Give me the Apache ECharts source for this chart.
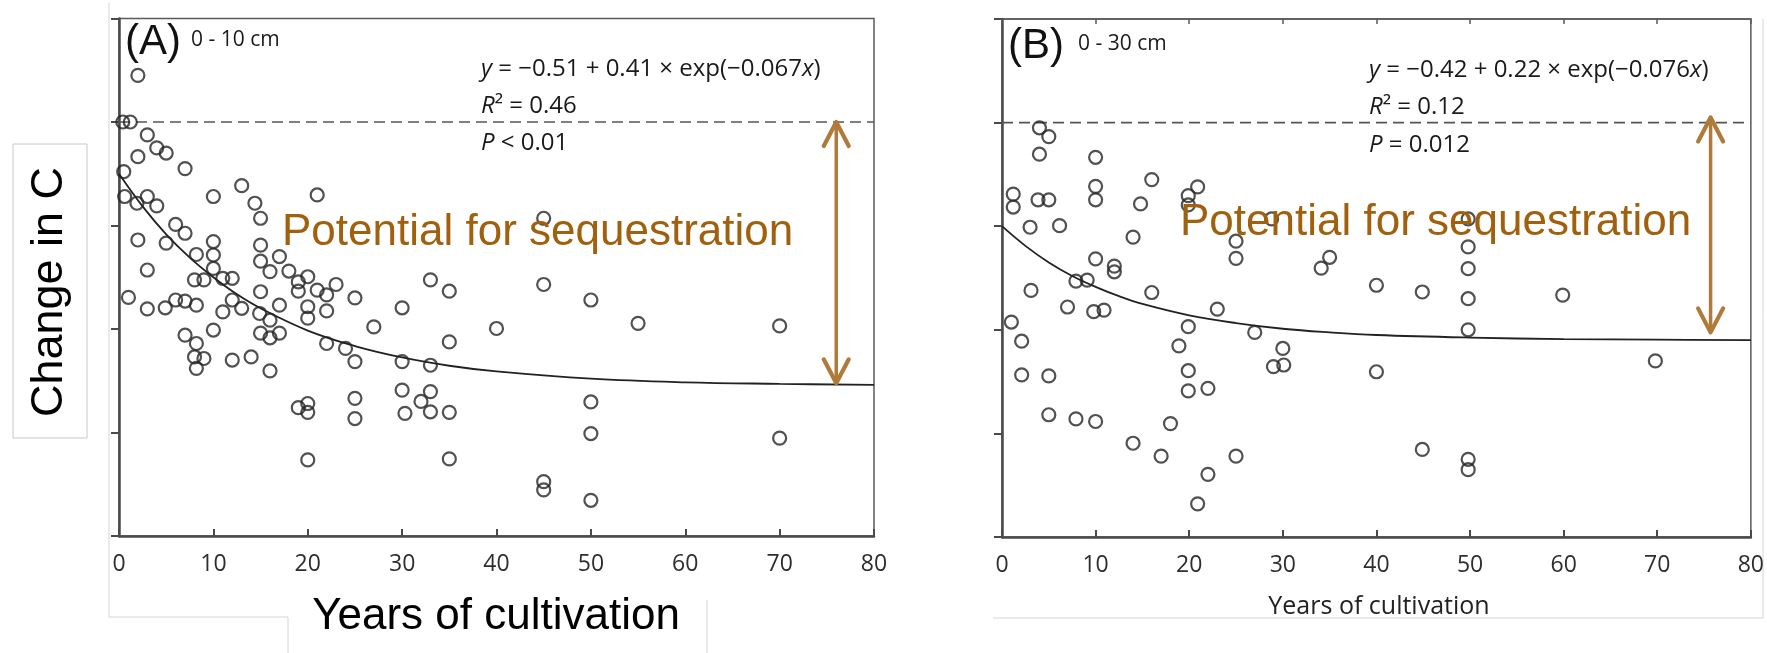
<!DOCTYPE html>
<html>
<head>
<meta charset="utf-8">
<script src="https://cdn.jsdelivr.net/npm/echarts@6/dist/echarts.min.js"></script>
<style>
  html, body { margin: 0; padding: 0; background: #ffffff; }
  #chart { width: 1767px; height: 653px; }
</style>
</head>
<body>
<div id="chart"></div>
<script>
// ---------- Data ----------
const xTicks = [0, 10, 20, 30, 40, 50, 60, 70, 80];

// Panel A (0 - 10 cm): [years of cultivation, change in C]
const pointsA = [
  [2, 0.09], [0.4, 0], [1.2, 0], [3, -0.025], [2, -0.067], [4, -0.05], [5, -0.06],
  [7, -0.09], [0.5, -0.096], [0.6, -0.144], [1.9, -0.157], [3, -0.144], [4, -0.162],
  [10, -0.144], [13, -0.123], [14.4, -0.157], [15, -0.186], [21, -0.141], [6, -0.198],
  [7, -0.215], [2, -0.228], [5, -0.234], [10, -0.231], [8.2, -0.256], [10, -0.257],
  [15, -0.238], [15, -0.269], [17, -0.26], [3, -0.286], [10, -0.283], [8, -0.305],
  [9, -0.305], [11, -0.302], [12, -0.302], [16, -0.289], [18, -0.288], [19, -0.309],
  [20, -0.299], [20, -0.357], [21, -0.325], [22, -0.334], [23, -0.314], [25, -0.34],
  [15, -0.328], [17, -0.354], [19, -0.327], [20, -0.379], [22, -0.365], [1, -0.339],
  [3, -0.361], [4.9, -0.359], [6, -0.344], [7, -0.346], [8.2, -0.354], [12, -0.344],
  [11, -0.367], [13, -0.36], [14.9, -0.37], [16, -0.383], [30, -0.359], [33, -0.305],
  [35, -0.327], [27, -0.396], [35, -0.425], [7, -0.412], [8.2, -0.428], [8, -0.454],
  [9, -0.457], [8.2, -0.476], [10, -0.402], [12, -0.46], [14, -0.454], [15, -0.408],
  [16, -0.417], [17, -0.408], [16, -0.481], [22, -0.428], [24, -0.4375], [25, -0.463],
  [30, -0.463], [33, -0.47], [30, -0.518], [33, -0.521], [32, -0.54], [33, -0.56],
  [30.3, -0.563], [35, -0.561], [25, -0.534], [25, -0.573], [19, -0.552], [20, -0.544],
  [20, -0.561], [20, -0.653], [35, -0.651], [40, -0.399], [45, -0.186], [45, -0.314],
  [50, -0.344], [55, -0.389], [70, -0.394], [50, -0.541], [50, -0.602], [70, -0.611],
  [45, -0.695], [45, -0.711], [50, -0.731]
];

// Panel B (0 - 30 cm)
const pointsB = [
  [4, -0.01], [5, -0.027], [4, -0.061], [10, -0.067], [16, -0.11], [10, -0.123],
  [10, -0.149], [1.2, -0.138], [1.2, -0.163], [3.85, -0.149], [5, -0.149], [14.8, -0.157],
  [19.9, -0.141], [20.9, -0.124], [19.9, -0.159], [3, -0.202], [6.15, -0.199], [14, -0.221],
  [28.8, -0.186], [25, -0.229], [25, -0.262], [10, -0.263], [12, -0.277], [12, -0.288],
  [7.9, -0.306], [9.1, -0.304], [3.1, -0.324], [16, -0.328], [34.1, -0.281], [35, -0.26],
  [40, -0.314], [7, -0.356], [9.8, -0.365], [10.9, -0.362], [23, -0.36], [1, -0.385],
  [2.1, -0.422], [19.9, -0.394], [18.9, -0.431], [27, -0.405], [30, -0.436], [29, -0.471],
  [30.1, -0.468], [2.1, -0.487], [5, -0.489], [19.9, -0.479], [19.9, -0.518], [22, -0.513],
  [40, -0.481], [5, -0.564], [7.9, -0.572], [10, -0.577], [18, -0.581], [14, -0.619],
  [17, -0.644], [25, -0.644], [22, -0.679], [20.9, -0.736],
  [49.8, -0.186], [49.8, -0.24], [49.8, -0.282], [49.8, -0.34], [49.8, -0.40],
  [44.9, -0.327], [59.9, -0.333], [69.8, -0.46], [44.9, -0.631], [49.8, -0.65], [49.8, -0.67]
];

// Fitted curves, values
const curveX  = [0, 2.5, 5, 7.5, 10, 12.5, 15, 20, 25, 30, 35, 40, 50, 60, 70, 80];
const curveA  = [-0.100, -0.163, -0.217, -0.262, -0.300, -0.333, -0.360, -0.403, -0.433, -0.455, -0.471, -0.482, -0.496, -0.503, -0.506, -0.508];
const curveB  = [-0.200, -0.238, -0.270, -0.296, -0.317, -0.335, -0.350, -0.372, -0.387, -0.398, -0.405, -0.410, -0.415, -0.418, -0.419, -0.420];

// Zero reference line
const zeroLine = [[0, 0], [80, 0]];

// Arrows: [x, top value, bottom value]
const arrowA = [[76, 0, -0.505]];
const arrowB = [[75.7, 0.01, -0.405]];

// Texts
const eqA = ['{i|y} = \u22120.51 + 0.41 \u00d7 exp(\u22120.067{i|x})', '{i|R}\u00b2 = 0.46', '{i|P} < 0.01'];
const eqB = ['{i|y} = \u22120.42 + 0.22 \u00d7 exp(\u22120.076{i|x})', '{i|R}\u00b2 = 0.12', '{i|P} = 0.012'];
const depthA = '0 - 10 cm';
const depthB = '0 - 30 cm';
const potentialText = 'Potential for sequestration';
const yTitle = 'Change in C';
const xTitle = 'Years of cultivation';

// ---------- Chart ----------
const chart = echarts.init(document.getElementById('chart'), null, { renderer: 'canvas' });
const arrowColor = '#B07B3A';
const textBrown = '#A0600E';
const pair = arr => curveX.map((x, i) => [x, arr[i]]);

function arrowRender(params, api) {
  const x = api.value(0), yt = api.value(1), yb = api.value(2);
  const p1 = api.coord([x, yt]);
  const p2 = api.coord([x, yb]);
  const hw = 12.5, hh = 24;
  const st = { stroke: arrowColor, lineWidth: 4.2, fill: null, lineCap: 'round', lineJoin: 'round' };
  return {
    type: 'group',
    children: [
      { type: 'line', shape: { x1: p1[0], y1: p1[1], x2: p2[0], y2: p2[1] }, style: { stroke: arrowColor, lineWidth: 3.5 } },
      { type: 'polyline', shape: { points: [[p1[0] - hw, p1[1] + hh], [p1[0], p1[1]], [p1[0] + hw, p1[1] + hh]] }, style: st },
      { type: 'polyline', shape: { points: [[p2[0] - hw, p2[1] - hh], [p2[0], p2[1]], [p2[0] + hw, p2[1] - hh]] }, style: st }
    ]
  };
}

const xAxisBase = (gridIndex) => ({
  type: 'value', gridIndex, min: 0, max: 80, interval: 10,
  axisLine: { show: true, onZero: false, lineStyle: { color: '#4a4a4a', width: 2.5 } },
  axisTick: { show: true, inside: true, length: 7, lineStyle: { color: '#4a4a4a', width: 2 } },
  axisLabel: { show: true, margin: 17, fontSize: 23, fontFamily: 'Open Sans', color: '#2e2e2e',
               formatter: v => xTicks.includes(v) ? String(v) : '' },
  splitLine: { show: false }
});
const yAxisBase = (gridIndex) => ({
  type: 'value', gridIndex, min: -0.8, max: 0.2, interval: 0.2,
  axisLine: { show: true, onZero: false, lineStyle: { color: '#4a4a4a', width: 2.5 } },
  axisTick: { show: true, inside: false, length: 8, lineStyle: { color: '#4a4a4a', width: 2 } },
  axisLabel: { show: false },
  splitLine: { show: false }
});

const scatterStyle = { color: 'rgba(0,0,0,0)', borderColor: '#262626', borderWidth: 2.2 };

const eqStyle = (t) => ({ text: t, fontFamily: 'Open Sans', fontSize: 24, fill: '#1a1a1a', align: 'left', verticalAlign: 'middle',
  rich: { i: { fontStyle: 'italic', fontFamily: 'Open Sans', fontSize: 24, fill: '#1a1a1a' } } });

const option = {
  backgroundColor: '#ffffff',
  animation: false,
  grid: [
    { left: 119, top: 18.5, width: 755, height: 517.5, show: true, borderColor: '#5a5a5a', borderWidth: 1.5, backgroundColor: 'transparent' },
    { left: 1002, top: 19, width: 754, height: 518, show: true, borderColor: '#5a5a5a', borderWidth: 1.5, backgroundColor: 'transparent' }
  ],
  xAxis: [
    xAxisBase(0),
    xAxisBase(1),
    Object.assign(xAxisBase(1), { position: 'top', axisLabel: { show: false },
      axisLine: { show: true, onZero: false, lineStyle: { color: '#5a5a5a', width: 1.5 } },
      axisTick: { show: true, inside: true, length: 5, lineStyle: { color: '#5a5a5a', width: 1.5 } } })
  ],
  yAxis: [yAxisBase(0), yAxisBase(1)],
  series: [
    { type: 'line', xAxisIndex: 0, yAxisIndex: 0, data: zeroLine, showSymbol: false, silent: true,
      lineStyle: { color: '#555', width: 1.6, type: [11, 6] }, z: 1 },
    { type: 'line', xAxisIndex: 1, yAxisIndex: 1, data: zeroLine, showSymbol: false, silent: true,
      lineStyle: { color: '#555', width: 1.6, type: [11, 6] }, z: 1 },
    { type: 'line', xAxisIndex: 0, yAxisIndex: 0, data: pair(curveA), smooth: 0.4, showSymbol: false,
      lineStyle: { color: '#222', width: 1.8 }, z: 2 },
    { type: 'line', xAxisIndex: 1, yAxisIndex: 1, data: pair(curveB), smooth: 0.4, showSymbol: false,
      lineStyle: { color: '#222', width: 1.8 }, z: 2 },
    { type: 'scatter', xAxisIndex: 0, yAxisIndex: 0, data: pointsA, symbol: 'circle', symbolSize: 13,
      itemStyle: scatterStyle, z: 3 },
    { type: 'scatter', xAxisIndex: 1, yAxisIndex: 1, data: pointsB, symbol: 'circle', symbolSize: 13,
      itemStyle: scatterStyle, z: 3 },
    { type: 'custom', xAxisIndex: 0, yAxisIndex: 0, data: arrowA, renderItem: arrowRender,
      encode: { x: 0, y: [1, 2] }, z: 4 },
    { type: 'custom', xAxisIndex: 1, yAxisIndex: 1, data: arrowB, renderItem: arrowRender,
      encode: { x: 0, y: [1, 2] }, z: 4 }
  ],
  graphic: [
    // faint edges of the pasted panels
    { type: 'line', shape: { x1: 109, y1: 3, x2: 109, y2: 617 }, style: { stroke: '#d6d6d6', lineWidth: 1 }, silent: true },
    { type: 'line', shape: { x1: 109, y1: 617, x2: 288, y2: 617 }, style: { stroke: '#d6d6d6', lineWidth: 1 }, silent: true },
    { type: 'line', shape: { x1: 288, y1: 617, x2: 288, y2: 653 }, style: { stroke: '#d6d6d6', lineWidth: 1 }, silent: true },
    { type: 'line', shape: { x1: 707, y1: 600, x2: 707, y2: 653 }, style: { stroke: '#d6d6d6', lineWidth: 1 }, silent: true },
    { type: 'line', shape: { x1: 993, y1: 618, x2: 1763, y2: 618 }, style: { stroke: '#d6d6d6', lineWidth: 1 }, silent: true },
    { type: 'line', shape: { x1: 1763, y1: 19, x2: 1763, y2: 618 }, style: { stroke: '#d6d6d6', lineWidth: 1 }, silent: true },
    // y title box
    { type: 'rect', shape: { x: 13, y: 144, width: 74, height: 294 }, style: { fill: '#ffffff', stroke: '#c8c8c8', lineWidth: 1 }, silent: true },
    { type: 'text', x: 50, y: 292, rotation: Math.PI / 2,
      style: { text: yTitle, fontFamily: 'Liberation Sans', fontSize: 45, fill: '#000', align: 'center', verticalAlign: 'middle' } },
    // x titles
    { type: 'text', x: 496, y: 617,
      style: { text: xTitle, fontFamily: 'Liberation Sans', fontSize: 44, fill: '#000', align: 'center', verticalAlign: 'middle' } },
    { type: 'text', x: 1379, y: 607,
      style: { text: xTitle, fontFamily: 'Open Sans', fontSize: 25, fill: '#222', align: 'center', verticalAlign: 'middle' } },
    // panel labels
    { type: 'text', x: 125, y: 42,
      style: { text: '(A)', fontFamily: 'Liberation Sans', fontSize: 42, fill: '#111', align: 'left', verticalAlign: 'middle' } },
    { type: 'text', x: 191, y: 40,
      style: { text: depthA, fontFamily: 'Open Sans', fontSize: 21, fill: '#1a1a1a', align: 'left', verticalAlign: 'middle' } },
    { type: 'text', x: 1008, y: 46,
      style: { text: '(B)', fontFamily: 'Liberation Sans', fontSize: 42, fill: '#111', align: 'left', verticalAlign: 'middle' } },
    { type: 'text', x: 1078, y: 44,
      style: { text: depthB, fontFamily: 'Open Sans', fontSize: 21, fill: '#1a1a1a', align: 'left', verticalAlign: 'middle' } },
    // equations
    ...eqA.map((t, i) => ({ type: 'text', x: 481, y: [69, 106, 143][i], style: eqStyle(t) })),
    ...eqB.map((t, i) => ({ type: 'text', x: 1369, y: [70, 107, 145][i], style: eqStyle(t) })),
    // potential for sequestration
    { type: 'text', x: 282, y: 233, z: 5,
      style: { text: potentialText, fontFamily: 'Liberation Sans', fontSize: 44, fill: textBrown, align: 'left', verticalAlign: 'middle' } },
    { type: 'text', x: 1180, y: 223, z: 5,
      style: { text: potentialText, fontFamily: 'Liberation Sans', fontSize: 44, fill: textBrown, align: 'left', verticalAlign: 'middle' } }
  ]
};
chart.setOption(option);
</script>
</body>
</html>
